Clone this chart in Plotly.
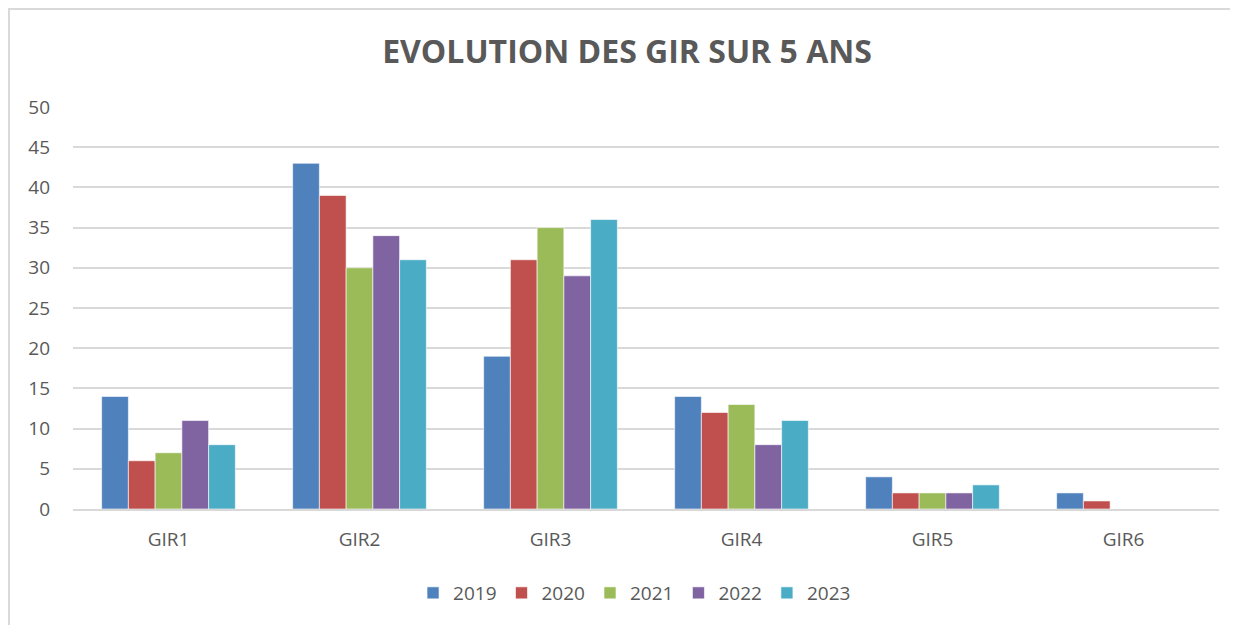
import plotly.graph_objects as go

categories = ["GIR1", "GIR2", "GIR3", "GIR4", "GIR5", "GIR6"]
years = ["2019", "2020", "2021", "2022", "2023"]
v2019 = [14, 43, 19, 14, 4, 2]
v2020 = [6, 39, 31, 12, 2, 1]
v2021 = [7, 30, 35, 13, 2, 0]
v2022 = [11, 34, 29, 8, 2, 0]
v2023 = [8, 31, 36, 11, 3, 0]
series = [v2019, v2020, v2021, v2022, v2023]
colors = ["#4F81BD", "#C0504D", "#9BBB59", "#8064A2", "#4BACC6"]

fig = go.Figure()
for name, vals, col in zip(years, series, colors):
    fig.add_trace(go.Bar(
        x=categories, y=vals, name=name,
        marker=dict(color=col, line=dict(color="rgba(255,255,255,0.6)", width=1)),
    ))

# page body has an 8px offset; margins account for it
L, R, T, B = 65, 27, 99, 124
PW, PH = 1238 - L - R, 625 - T - B

font_family = "Open Sans, Liberation Sans, sans-serif"
fig.update_layout(
    width=1238, height=625,
    paper_bgcolor="white", plot_bgcolor="white",
    margin=dict(l=L, r=R, t=T, b=B),
    barmode="group", bargap=0.30, bargroupgap=0,
    font=dict(family=font_family, color="#595959", size=19),
    title=dict(text="<b>EVOLUTION DES GIR SUR 5 ANS</b>", x=0.5, xanchor="center",
               y=1 - 44 / 625, yanchor="middle",
               font=dict(size=32, color="#595959", family=font_family)),
    legend=dict(orientation="h", x=0.49, xanchor="center", y=-(585 - (625 - B)) / PH, yanchor="middle",
                font=dict(size=19, color="#595959"), itemwidth=30, traceorder="normal"),
    xaxis=dict(showline=True, linecolor="#D9D9D9", linewidth=2, ticks="",
               tickfont=dict(size=19, color="#595959"), showgrid=False,
               ticklabelstandoff=12),
    yaxis=dict(range=[0, 50], dtick=5, showgrid=True, gridcolor="#D9D9D9", gridwidth=2,
               zeroline=False, ticks="", tickfont=dict(size=19, color="#595959"),
               ticklabelstandoff=22),
    shapes=[dict(type="rect", xref="paper", yref="paper",
                 x0=-L / PW + 1 / PW, x1=1.05, y0=-1, y1=(625 - B - 1) / PH,
                 line=dict(color="#D9D9D9", width=2), fillcolor="rgba(0,0,0,0)", layer="below")],
)

fig.write_html("out.html")
